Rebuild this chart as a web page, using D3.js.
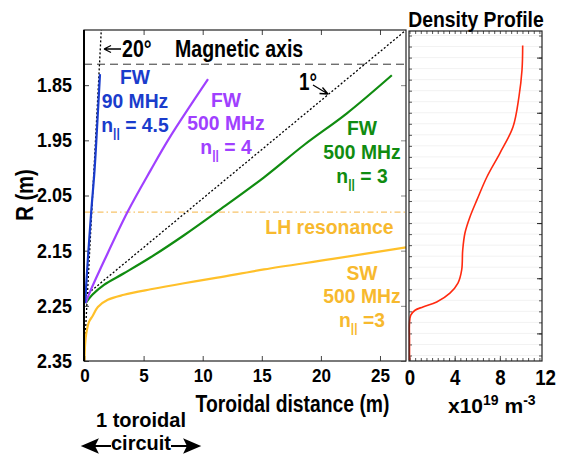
<!DOCTYPE html>
<html><head><meta charset="utf-8">
<script src="https://cdn.jsdelivr.net/npm/d3@7"></script>
<style>
body{margin:0;background:#fff;}
svg text{font-family:"Liberation Sans",Arial,Helvetica,sans-serif;font-weight:bold;}
</style></head>
<body><svg id="c" width="566" height="454"></svg>
<script>
// ---- data ----
const xTicksLeft = [0, 5, 10, 15, 20, 25];
const rTicks = [1.85, 1.95, 2.05, 2.15, 2.25, 2.35];
const densTicks = [0, 4, 8, 12];
const magAxisR = 1.812;
const lhResR = 2.08;
// [toroidal distance (m), R (m)]
const fw90 = [[0.05,2.245],[0.28,2.167],[0.57,2.079],[0.85,2.004],[1.08,1.92],[1.31,1.83]];
const fw500n4 = [[0.1,2.245],[0.42,2.227],[1.69,2.167],[3.66,2.079],[5.6,2.004],[7.2,1.945],[10.45,1.839]];
const fw500n3 = [[0.1,2.245],[0.66,2.23],[1.65,2.212],[3.34,2.191],[5.6,2.162],[8.42,2.122],[11.24,2.079],[15.19,2.017],[18.6,1.958],[22.2,1.901],[26.0,1.832]];
const sw500 = [[0.0,2.35],[0.05,2.32],[0.15,2.30],[0.38,2.279],[0.7,2.268],[1.13,2.252],[1.97,2.239],[3.34,2.23],[5.6,2.22],[8.42,2.209],[11.24,2.199],[15.19,2.184],[21.0,2.165],[27.2,2.144]];
const line20deg = [[0.0,2.33],[1.42,1.75]];
const line1deg = [[0.05,2.232],[27.1,1.752]];
// density profile: [density (1e19 m^-3), R (m)]
const density = [[0.0,2.348],[0.0,2.312],[0.0,2.281],[0.11,2.267],[0.49,2.258],[1.19,2.252],[2.41,2.243],[3.58,2.227],[4.29,2.209],[4.62,2.185],[4.71,2.149],[4.91,2.118],[5.35,2.089],[5.97,2.058],[6.86,2.016],[8.01,1.973],[9.16,1.926],[9.69,1.871],[9.96,1.8225],[10.02,1.778]];

// ---- layout ----
const svg = d3.select("#c");
const L = {x0:84, x1:406, y0:30, y1:361};
const Rp = {x0:409, x1:542, y0:31, y1:361};
const x = d3.scaleLinear().domain([0,27.2]).range([L.x0+0.5, L.x1]);
const y = d3.scaleLinear().domain([1.75,2.35]).range([L.y0, L.y1]);
const xd = d3.scaleLinear().domain([0,11.73]).range([Rp.x0+0.5, Rp.x1]);

function condense(sel,k){
  sel.each(function(){
    const w=this.getComputedTextLength();
    this.setAttribute("textLength", (w*k).toFixed(1));
    this.setAttribute("lengthAdjust","spacingAndGlyphs");
  });
  return sel;
}
function txt(g,s,px,py,size,k,anchor,fill){
  const t=g.append("text").attr("x",px).attr("y",py).attr("font-size",size)
    .attr("text-anchor",anchor||"middle").attr("fill",fill||"#000").text(s);
  condense(t,k); return t;
}
function npar(g,pre,val,px,py,size,k,fill){
  const t=g.append("text").attr("x",px).attr("y",py).attr("font-size",size)
    .attr("text-anchor","middle").attr("fill",fill);
  t.append("tspan").text("n");
  t.append("tspan").attr("font-size",size*0.62).attr("dy",5).text("||");
  t.append("tspan").attr("dy",-5).text(pre+val);
  condense(t,k); return t;
}

// right panel faint grid
const gR = svg.append("g");
gR.selectAll("line.gh").data(d3.range(1.76,2.35,0.02)).join("line")
  .attr("x1",Rp.x0).attr("x2",Rp.x1).attr("y1",d=>y(d)).attr("y2",d=>y(d))
  .attr("stroke","#f2f2f2").attr("stroke-width",1);

// left panel axes / ticks
const gA = svg.append("g");
gA.append("g").attr("transform",`translate(0,${L.y1})`)
  .call(d3.axisBottom(x).tickValues(xTicksLeft).tickSizeInner(-5).tickSizeOuter(0).tickPadding(8))
  .call(g=>g.select(".domain").remove())
  .call(g=>g.selectAll(".tick line").attr("stroke","#444"))
  .call(g=>g.selectAll("text").attr("font-size",19).attr("fill","#000").attr("dy","0.71em"));
gA.append("g").attr("transform",`translate(0,${L.y0})`)
  .call(d3.axisTop(x).tickValues(xTicksLeft.slice(1)).tickSizeInner(-5).tickSizeOuter(0).tickFormat(""))
  .call(g=>g.select(".domain").remove()).call(g=>g.selectAll(".tick line").attr("stroke","#444"));
gA.append("g").attr("transform",`translate(${L.x0},0)`)
  .call(d3.axisLeft(y).tickValues(rTicks).tickSizeInner(-5).tickSizeOuter(0).tickPadding(12).tickFormat(d3.format(".2f")))
  .call(g=>g.select(".domain").remove())
  .call(g=>g.selectAll(".tick line").attr("stroke","#444"))
  .call(g=>g.selectAll("text").attr("font-size",20).attr("fill","#000"));
gA.append("g").attr("transform",`translate(${L.x1},0)`)
  .call(d3.axisRight(y).tickValues(rTicks).tickSizeInner(-5).tickSizeOuter(0).tickFormat(""))
  .call(g=>g.select(".domain").remove()).call(g=>g.selectAll(".tick line").attr("stroke","#888"));
gA.selectAll("text").each(function(){ condense(d3.select(this), 0.9); });

// right panel ticks
const minorX = d3.range(0,11.73,0.5);
const gB = svg.append("g");
gB.append("g").attr("transform",`translate(0,${Rp.y1})`)
  .call(d3.axisBottom(xd).tickValues(minorX).tickSizeInner(-3).tickSizeOuter(0).tickFormat(""))
  .call(g=>g.select(".domain").remove()).call(g=>g.selectAll(".tick line").attr("stroke","#555"));
gB.append("g").attr("transform",`translate(0,${Rp.y1})`)
  .call(d3.axisBottom(xd).tickValues(densTicks).tickSizeInner(-5).tickSizeOuter(0).tickPadding(8))
  .call(g=>g.select(".domain").remove())
  .call(g=>g.selectAll(".tick line").attr("stroke","#555").attr("display",d=>d>11.73?"none":null))
  .call(g=>g.selectAll("text").attr("font-size",22).attr("fill","#000").attr("dy","0.71em"));
gB.selectAll("text").each(function(){ condense(d3.select(this), 0.85); });
gB.append("g").attr("transform",`translate(0,${Rp.y0})`)
  .call(d3.axisTop(xd).tickValues(minorX).tickSizeInner(-3).tickSizeOuter(0).tickFormat(""))
  .call(g=>g.select(".domain").remove()).call(g=>g.selectAll(".tick line").attr("stroke","#555"));
gB.append("g").attr("transform",`translate(${Rp.x0},0)`)
  .call(d3.axisLeft(y).tickValues(d3.range(1.76,2.35,0.02)).tickSizeInner(-3).tickSizeOuter(0).tickFormat(""))
  .call(g=>g.select(".domain").remove()).call(g=>g.selectAll(".tick line").attr("stroke","#555"));
gB.append("g").attr("transform",`translate(${Rp.x1},0)`)
  .call(d3.axisRight(y).tickValues(d3.range(1.76,2.35,0.02)).tickSizeInner(-3).tickSizeOuter(0).tickFormat(""))
  .call(g=>g.select(".domain").remove()).call(g=>g.selectAll(".tick line").attr("stroke","#555"));
gB.append("g").attr("transform",`translate(${Rp.x1},0)`)
  .call(d3.axisRight(y).tickValues(d3.range(1.8,2.35,0.1)).tickSizeInner(-5).tickSizeOuter(0).tickFormat(""))
  .call(g=>g.select(".domain").remove()).call(g=>g.selectAll(".tick line").attr("stroke","#222"));

// reference lines
svg.append("line").attr("x1",L.x0).attr("x2",L.x1).attr("y1",y(magAxisR)).attr("y2",y(magAxisR))
  .attr("stroke","#333").attr("stroke-width",1).attr("stroke-dasharray","8,5");
svg.append("line").attr("x1",L.x0).attr("x2",L.x1).attr("y1",y(lhResR)).attr("y2",y(lhResR))
  .attr("stroke","#f7c46a").attr("stroke-width",1.2).attr("stroke-dasharray","6,3,1.5,3");

// curves
const lineLin = d3.line().x(d=>x(d[0])).y(d=>y(d[1]));
const line = d3.line().x(d=>x(d[0])).y(d=>y(d[1])).curve(d3.curveCatmullRom.alpha(0.5));
svg.append("path").datum(line20deg).attr("d",lineLin).attr("fill","none").attr("stroke","#000").attr("stroke-width",1.3).attr("stroke-dasharray","2,2");
svg.append("path").datum(line1deg).attr("d",lineLin).attr("fill","none").attr("stroke","#000").attr("stroke-width",1.3).attr("stroke-dasharray","2,2");
const curves = [[sw500,"#ffc02a"],[fw500n3,"#108c10"],[fw500n4,"#a040ff"],[fw90,"#1a3ccc"]];
curves.forEach(([d,c])=>{
  svg.append("path").datum(d).attr("d",line).attr("fill","none")
    .attr("stroke",c).attr("stroke-width",2.2);
});
const dline = d3.line().x(d=>xd(d[0])).y(d=>y(d[1])).curve(d3.curveCatmullRom.alpha(0.5));
svg.append("path").datum(density).attr("d",dline).attr("fill","none").attr("stroke","#ff2a10").attr("stroke-width",1.6);

// frames
svg.append("rect").attr("x",L.x0).attr("y",L.y0).attr("width",L.x1-L.x0).attr("height",L.y1-L.y0)
  .attr("fill","none").attr("stroke","#222").attr("stroke-width",1.2);
svg.append("line").attr("x1",L.x0).attr("x2",L.x0).attr("y1",L.y0).attr("y2",L.y1).attr("stroke","#000").attr("stroke-width",2);
svg.append("rect").attr("x",Rp.x0).attr("y",Rp.y0).attr("width",Rp.x1-Rp.x0).attr("height",Rp.y1-Rp.y0)
  .attr("fill","none").attr("stroke","#222").attr("stroke-width",1.2);

// annotations
const gT = svg.append("g");
gT.append("path").attr("d","M104,49 L121,49 M104,49 L111,45.5 M104,49 L111,52.5").attr("stroke","#000").attr("stroke-width",1.3).attr("fill","none");
txt(gT,"20°",122,57,23,0.85,"start");
txt(gT,"Magnetic axis",175,57,23,0.85,"start");
txt(gT,"1°",299,90,23,0.82,"start");
gT.append("path").attr("d","M313,85 L328,94 M328,94 L319.5,93.5 M328,94 L322.5,87.5").attr("stroke","#000").attr("stroke-width",1.3).attr("fill","none");

const blue="#1a3ccc", purple="#a040ff", green="#108c10", gold="#f7b92e";
txt(gT,"FW",135,84,21,0.92,"middle",blue);
txt(gT,"90 MHz",135,108,21,0.92,"middle",blue);
npar(gT," = ","4.5",135,132,21,0.92,blue);
txt(gT,"FW",226,107,21,0.92,"middle",purple);
txt(gT,"500 MHz",226,130,21,0.92,"middle",purple);
npar(gT," = ","4",226,154,21,0.92,purple);
txt(gT,"FW",362,135,21,0.92,"middle",green);
txt(gT,"500 MHz",362,159,21,0.92,"middle",green);
npar(gT," = ","3",362,183,21,0.92,green);
txt(gT,"LH resonance",329.5,234,20,0.97,"middle",gold);
txt(gT,"SW",362,280,21,0.92,"middle",gold);
txt(gT,"500 MHz",362,303,21,0.92,"middle",gold);
npar(gT," =","3",362,327,21,0.92,gold);

// axis titles
txt(gT,"Toroidal distance (m)",292.5,412,23,0.84,"middle");
const rl = gT.append("text").attr("transform","translate(33,195) rotate(-90)").attr("text-anchor","middle").attr("font-size",23).text("R (m)");
condense(rl,0.88);
txt(gT,"Density Profile",476,26.5,22.5,0.86,"middle");
const dl = gT.append("text").attr("x",448).attr("y",413).attr("font-size",21).attr("text-anchor","start");
dl.append("tspan").text("x10");
dl.append("tspan").attr("font-size",14).attr("dy",-8).text("19");
dl.append("tspan").attr("dy",8).text(" m");
dl.append("tspan").attr("font-size",14).attr("dy",-8).text("-3");

txt(gT,"1 toroidal",141,427,20,1.0,"middle");
txt(gT,"circuit",141,450,20,1.0,"middle");
gT.append("path").attr("d","M83,446 L97,440 L94,446 L97,452 Z M94,446 L111,446").attr("stroke","#000").attr("stroke-width",1.8).attr("fill","#000");
gT.append("path").attr("d","M199,446 L185,440 L188,446 L185,452 Z M188,446 L171,446").attr("stroke","#000").attr("stroke-width",1.8).attr("fill","#000");
</script></body></html>
